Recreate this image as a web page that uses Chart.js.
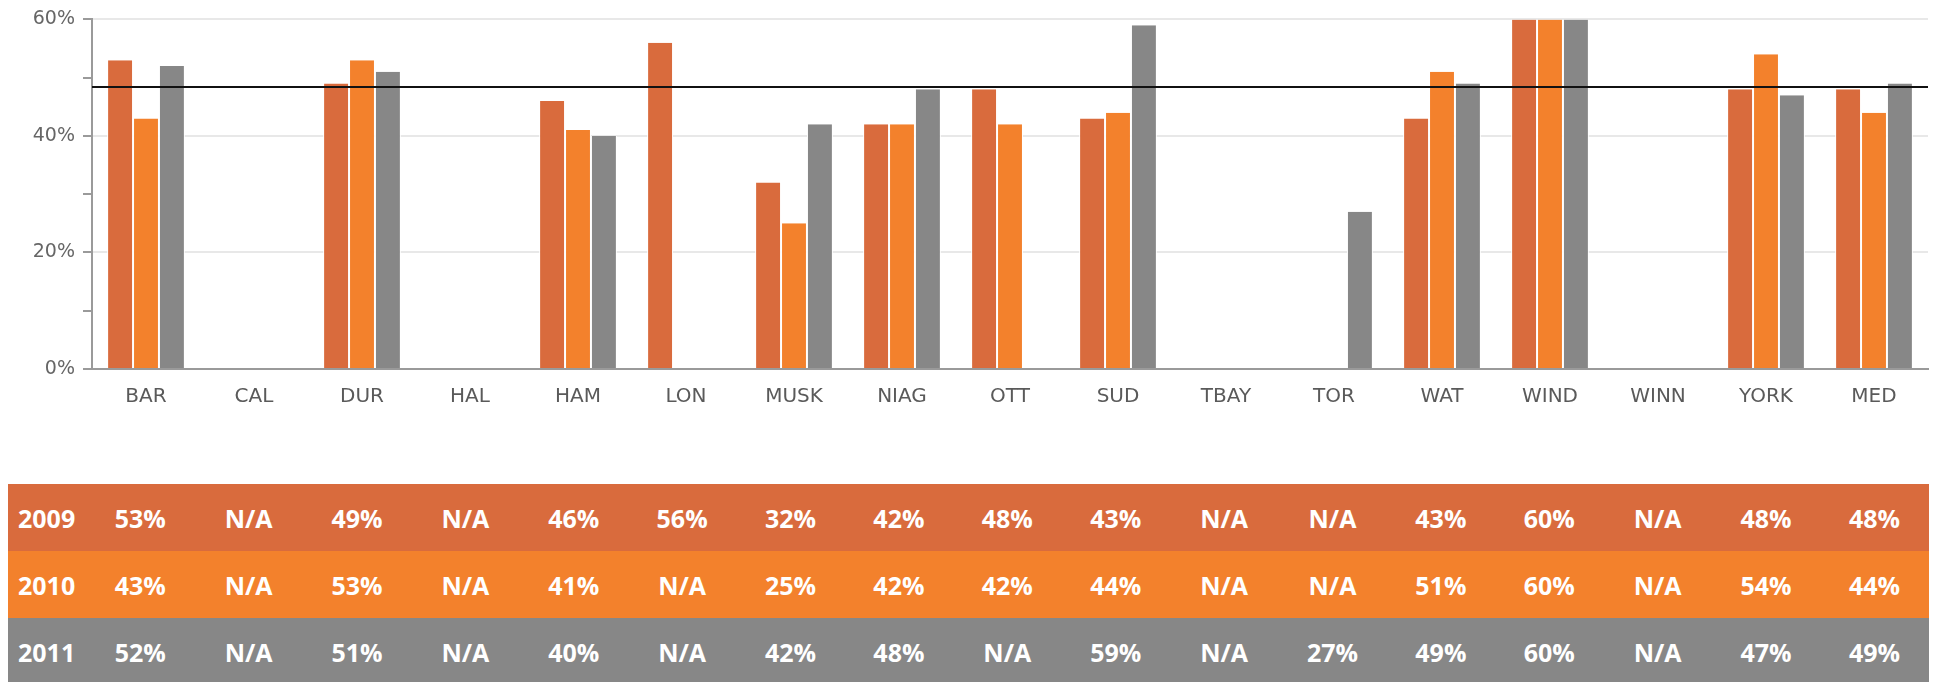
<!DOCTYPE html>
<html lang="fr">
<head>
<meta charset="utf-8">
<title>Taux par région 2009-2011</title>
<script src="https://cdn.jsdelivr.net/npm/chart.js@4/dist/chart.umd.min.js"></script>
<style>
  html, body { margin: 0; padding: 0; background: #ffffff; }
  body { width: 1938px; height: 682px; position: relative; overflow: hidden; }
  #chart-wrap { position: absolute; left: 0; top: 0; width: 1938px; height: 430px; }
  #data-table {
    position: absolute; left: 8px; top: 484px;
    border-collapse: collapse; table-layout: fixed;
    font-family: "Open Sans", sans-serif; font-weight: 700; font-size: 25px; color: #ffffff;
  }
  #data-table td {
    box-sizing: border-box; height: 67px; padding: 0;
    text-align: center; vertical-align: middle; white-space: nowrap;
  }
  #data-table td.year { width: 78px; text-align: left; padding-left: 10px; }
  #data-table td.val { width: 108.4px; }
</style>
</head>
<body>
<div id="chart-wrap"><canvas id="chart"></canvas></div>
<table id="data-table"><tbody></tbody></table>

<script>
// Données (null = N/A)
const categories = ['BAR', 'CAL', 'DUR', 'HAL', 'HAM', 'LON', 'MUSK', 'NIAG', 'OTT', 'SUD', 'TBAY', 'TOR', 'WAT', 'WIND', 'WINN', 'YORK', 'MED'];
const years = ['2009', '2010', '2011'];
const values2009 = [53, null, 49, null, 46, 56, 32, 42, 48, 43, null, null, 43, 60, null, 48, 48];
const values2010 = [43, null, 53, null, 41, null, 25, 42, 42, 44, null, null, 51, 60, null, 54, 44];
const values2011 = [52, null, 51, null, 40, null, 42, 48, null, 59, null, 27, 49, 60, null, 47, 49];
const yLabelTicks = [0, 20, 40, 60];
const average = 48.4;

// Couleurs par série
const colors = {
  y2009: '#d96b3d',
  y2010: '#f3812c',
  y2011: '#878787',
  axis: '#9a9a9a',
  grid: '#e8e8e8',
  text: '#666666'
};

const seriesValues = [values2009, values2010, values2011];
const seriesColors = [colors.y2009, colors.y2010, colors.y2011];

// Ligne de moyenne horizontale
const averageLine = {
  id: 'averageLine',
  afterDatasetsDraw(chart) {
    const { ctx, chartArea, scales } = chart;
    const y = scales.y.getPixelForValue(average);
    ctx.save();
    ctx.strokeStyle = '#111111';
    ctx.lineWidth = 2;
    ctx.beginPath();
    ctx.moveTo(chartArea.left, y);
    ctx.lineTo(chartArea.right, y);
    ctx.stroke();
    ctx.restore();
  }
};

const datasets = years.map((year, i) => ({
  label: year,
  data: seriesValues[i],
  backgroundColor: seriesColors[i],
  borderColor: '#ffffff',
  borderWidth: { left: 1, right: 1, top: 0, bottom: 0 },
  categoryPercentage: 0.72,
  barPercentage: 1.0
}));

new Chart(document.getElementById('chart'), {
  type: 'bar',
  data: { labels: categories, datasets },
  options: {
    responsive: true,
    maintainAspectRatio: false,
    animation: false,
    layout: { padding: { top: 16, right: 10, bottom: 0, left: 0 } },
    plugins: {
      legend: { display: false },
      tooltip: { enabled: false }
    },
    scales: {
      x: {
        grid: { drawOnChartArea: false, drawTicks: false },
        border: { color: colors.axis, width: 2 },
        ticks: {
          color: '#5a5a5a',
          padding: 16,
          font: { family: 'DejaVu Sans', size: 20 }
        },
        afterFit: (scale) => { scale.height = 61; }
      },
      y: {
        min: 0,
        max: 60,
        border: { color: colors.axis, width: 2 },
        grid: {
          color: (ctx) => (ctx.tick && ctx.tick.value > 0 && yLabelTicks.includes(ctx.tick.value)) ? colors.grid : 'rgba(0,0,0,0)',
          lineWidth: 2,
          tickColor: colors.axis,
          tickLength: 9
        },
        ticks: {
          stepSize: 10,
          color: colors.text,
          padding: 8,
          font: { family: 'DejaVu Sans', size: 19 },
          callback: (v) => yLabelTicks.includes(v) ? v + '%' : ''
        },
        afterFit: (scale) => { scale.width = 92; }
      }
    }
  },
  plugins: [averageLine]
});

// Tableau des valeurs sous le graphique
const tbody = document.querySelector('#data-table tbody');
years.forEach((year, i) => {
  const tr = document.createElement('tr');
  tr.style.background = seriesColors[i];
  let html = `<td class="year">${year}</td>`;
  seriesValues[i].forEach((v) => {
    html += `<td class="val">${v === null ? 'N/A' : v + '%'}</td>`;
  });
  tr.innerHTML = html;
  tbody.appendChild(tr);
});
</script>
</body>
</html>
